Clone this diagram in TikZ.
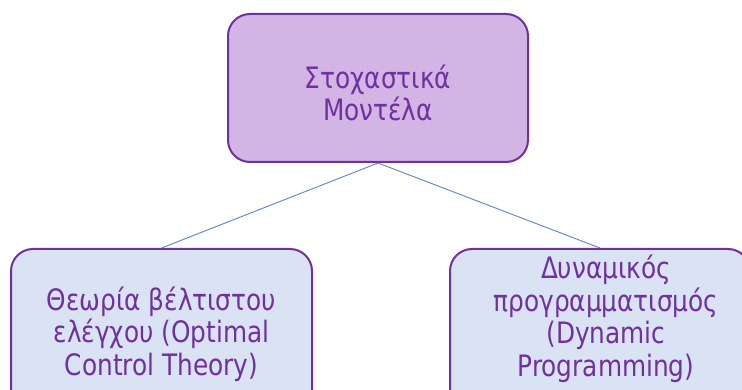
\documentclass[tikz,border=0pt]{standalone}
\usepackage{fontspec}
\setmainfont{DejaVu Sans}[FakeStretch=0.84]
\definecolor{boxline}{HTML}{7030A0}
\definecolor{topfill}{HTML}{D3B5E5}
\definecolor{botfill}{HTML}{DAE3F3}
\definecolor{linkc}{HTML}{5A85CC}
\tikzset{
  box/.style={draw=boxline, line width=2pt, rounded corners=22pt, inner sep=0pt},
  topbox/.style={box, fill=topfill},
  botbox/.style={box, fill=botfill},
  label/.style={text=boxline, align=center, inner sep=0pt, font=\fontsize{29.5}{32.5}\selectfont},
  link/.style={draw=linkc, line width=0.9pt}
}
\begin{document}
\begin{tikzpicture}[x=1pt,y=-1pt]
\useasboundingbox (0,0) rectangle (742,390);
\clip (0,0) rectangle (742,390);
\fill[white] (0,0) rectangle (742,390);
\node[topbox, minimum width=300pt, minimum height=148pt] (top) at (378,88) {};
\node[botbox, minimum width=301pt, minimum height=165pt] (left) at (161.5,331.5) {};
\node[botbox, minimum width=300pt, minimum height=165pt] (right) at (600,331.5) {};
\draw[link] (top.south) -- (left.north);
\draw[link] (top.south) -- (right.north);
\node[label] (ttop) at (378,93) {Στοχαστικά\\Μοντέλα};
\node[label] (tleft) at (161.5,334) {Θεωρία βέλτιστου\\ελέγχου (Optimal\\Control Theory)};
\node[label] (tright) at (606,319) {Δυναμικός\\προγραμματισμός\\(Dynamic\\Programming)};
\end{tikzpicture}
\end{document}
